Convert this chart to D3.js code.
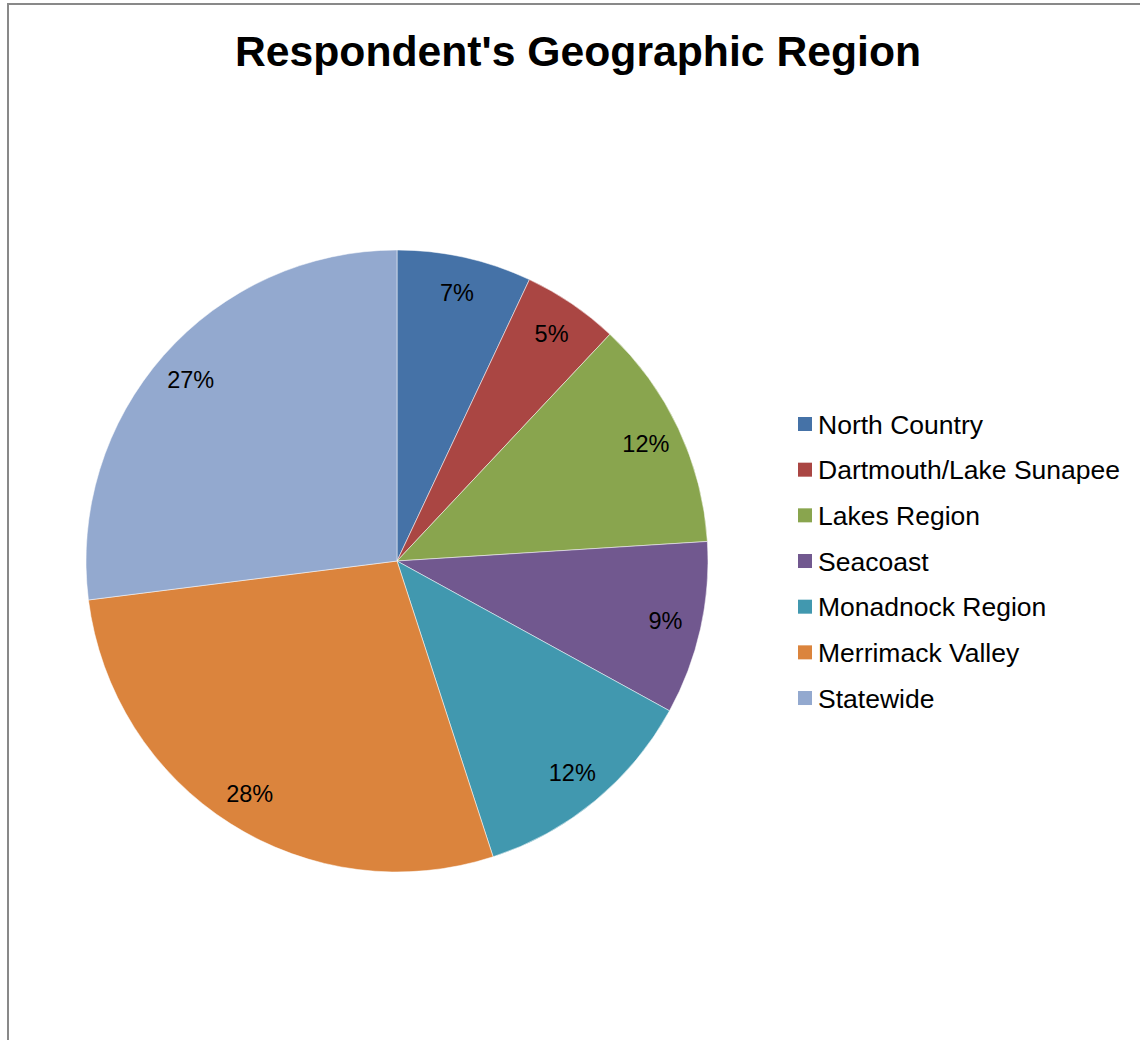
<!DOCTYPE html>
<html>
<head>
<meta charset="utf-8">
<script src="https://cdn.jsdelivr.net/npm/d3@7"></script>
<style>
  html, body { margin: 0; padding: 0; background: #fff; }
  svg { display: block; }
  text { font-family: "Liberation Sans", Arial, sans-serif; }
</style>
</head>
<body>
<svg id="chart" width="1140" height="1040"></svg>
<script>
// Survey share of respondents by New Hampshire region (percent)
const regions = ["North Country", "Dartmouth/Lake Sunapee", "Lakes Region", "Seacoast",
                 "Monadnock Region", "Merrimack Valley", "Statewide"];
const shares = [7, 5, 12, 9, 12, 28, 27];
const palette = ["#4572A7", "#AA4643", "#89A54E", "#71588F", "#4198AF", "#DB843D", "#93A9CF"];
const titleText = "Respondent's Geographic Region";

const W = 1140, H = 1040;
const cx = 397, cy = 561, radius = 311, labelRadius = 275;

const svg = d3.select("#chart");

// Outer chart frame (runs off the right and bottom edges)
svg.append("rect")
  .attr("x", 8).attr("y", 4)
  .attr("width", W + 20).attr("height", H + 20)
  .attr("fill", "#fff")
  .attr("stroke", "#898989")
  .attr("stroke-width", 2);

// Title
svg.append("text")
  .attr("x", 578).attr("y", 66)
  .attr("text-anchor", "middle")
  .attr("font-size", 42.7)
  .attr("font-weight", "bold")
  .attr("fill", "#000")
  .text(titleText);

const data = regions.map((name, i) => ({ name, value: shares[i], color: palette[i] }));

const pie = d3.pie().value(d => d.value).sort(null);
const arcs = pie(data);

const arc = d3.arc().innerRadius(0).outerRadius(radius);
const labelArc = d3.arc().innerRadius(labelRadius).outerRadius(labelRadius);

const g = svg.append("g").attr("transform", `translate(${cx},${cy})`);

g.selectAll("path.slice")
  .data(arcs)
  .join("path")
  .attr("class", "slice")
  .attr("d", arc)
  .attr("fill", d => d.data.color)
  .attr("stroke", "#fff")
  .attr("stroke-opacity", 0.5)
  .attr("stroke-width", 1);

g.selectAll("text.pct")
  .data(arcs)
  .join("text")
  .attr("class", "pct")
  .attr("transform", d => `translate(${labelArc.centroid(d)})`)
  .attr("text-anchor", "middle")
  .attr("dy", "0.36em")
  .attr("font-size", 23.5)
  .attr("fill", "#000")
  .text(d => d3.format(".0f")(d.data.value) + "%");

// Legend
const legendX = 798, legendY0 = 424, legendStep = 45.67;
const legend = svg.append("g");
const rows = legend.selectAll("g.row")
  .data(data)
  .join("g")
  .attr("class", "row")
  .attr("transform", (d, i) => `translate(${legendX},${legendY0 + i * legendStep})`);

rows.append("rect")
  .attr("x", 0).attr("y", -7)
  .attr("width", 14).attr("height", 14)
  .attr("fill", d => d.color);

rows.append("text")
  .attr("x", 20).attr("y", 0)
  .attr("dy", "0.36em")
  .attr("font-size", 26.5)
  .attr("fill", "#000")
  .text(d => d.name);
</script>
</body>
</html>
